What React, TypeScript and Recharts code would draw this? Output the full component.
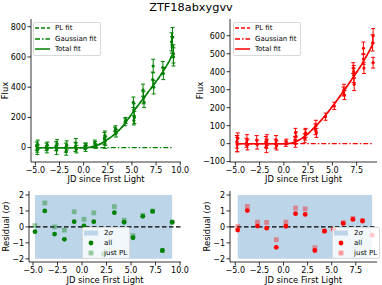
import React from 'react';
import {
  ComposedChart,
  Scatter,
  Line,
  XAxis,
  YAxis,
  ErrorBar,
  ReferenceArea,
  ReferenceLine,
  Legend,
  Label,
} from 'recharts';

const FONT = "'DejaVu Sans', sans-serif";
const GREEN = '#008000';
const RED = '#ff0000';
const SPAN_BLUE = '#bcd5e9';
const TITLE = 'ZTF18abxygvv';

// left panel (green band) flux measurements
const greenX = [-4.85, -4.8, -4.75, -4.8, -3.85, -3.8, -3.75, -2.85, -2.8, -2.75, -1.85, -1.8, -1.75, -0.85, -0.8, -0.75, 0.15, 0.2, 0.25, 1.15, 1.2, 1.25, 2.15, 2.2, 2.25, 2.2, 3.25, 3.3, 3.35, 4.3, 4.35, 5.15, 5.2, 5.25, 5.2, 6.15, 6.2, 6.25, 7.2, 7.15, 7.25, 8.2, 8.25, 9.1, 9.2, 9.15, 9.3, 9.3];
const greenFlux = [10, -15, 20, -5, 5, -10, 15, 10, -15, 25, 0, -25, 15, 5, 30, -10, 10, -5, 15, 30, 20, 10, 60, 30, 45, 80, 110, 125, 95, 170, 180, 300, 250, 200, 180, 380, 330, 300, 540, 450, 400, 530, 490, 700, 730, 680, 620, 600];
const greenErr = [28, 30, 30, 25, 25, 25, 22, 30, 30, 28, 30, 25, 30, 30, 30, 25, 20, 20, 15, 20, 20, 15, 40, 35, 30, 30, 25, 20, 25, 25, 20, 35, 40, 40, 30, 40, 40, 35, 45, 50, 45, 40, 40, 60, 65, 55, 60, 60];

// right panel (red band) flux measurements
const redX = [-4.85, -4.8, -4.75, -4.8, -3.85, -3.8, -3.75, -2.8, -2.75, -1.85, -1.8, -1.75, -1.8, -0.85, -0.8, -0.75, 0.2, 0.25, 1.15, 1.2, 1.25, 1.2, 2.15, 2.2, 2.25, 3.25, 3.3, 3.35, 4.3, 5.2, 6.15, 6.2, 6.25, 7.15, 7.2, 7.25, 7.2, 8.2, 8.2, 8.25, 9.15, 9.2, 9.2];
const redFlux = [10, -5, 30, 0, 5, 20, -5, 20, -5, 10, -20, 20, 0, 0, 20, -10, 0, 10, 20, 60, 40, 0, 30, 50, 60, 80, 100, 60, 150, 210, 290, 300, 270, 420, 380, 330, 400, 530, 470, 420, 560, 600, 450];
const redErr = [35, 40, 30, 45, 25, 30, 30, 25, 25, 30, 30, 30, 25, 25, 25, 25, 15, 15, 20, 25, 25, 20, 25, 30, 25, 30, 30, 25, 20, 20, 25, 30, 25, 30, 40, 35, 35, 35, 30, 30, 45, 40, 30];

// fits
const greenFitX = [-4.8, 0.3, 0.7, 1, 1.5, 2, 2.5, 3, 3.5, 4, 4.5, 5, 5.5, 6, 6.5, 7, 7.5, 8, 8.5, 9, 9.3];
const greenFitY = [0, 0, 3, 8, 18, 34, 55, 78, 105, 138, 180, 225, 268, 310, 352, 394, 437, 482, 532, 590, 635];
const greenGaussX = [-4.8, 9.3];
const greenGaussY = [0, 0];
const redFitX = [-4.8, 0.3, 0.7, 1, 1.5, 2, 2.5, 3, 3.5, 4, 4.5, 5, 5.5, 6, 6.5, 7, 7.5, 8, 8.5, 9, 9.2];
const redFitY = [0, 0, 2, 6, 18, 35, 55, 82, 110, 140, 172, 207, 243, 280, 318, 357, 397, 438, 485, 535, 557];
const redGaussX = [-4.8, 9.2];
const redGaussY = [0, 0];

// residuals
const greenResX = [-4.8, -3.8, -2.8, -1.8, -0.8, 0.2, 1.2, 2.2, 3.3, 4.3, 5.2, 6.2, 7.2, 8.2, 9.2];
const greenResAll = [-0.3, 1.0, -0.45, -0.78, 0.33, 0.06, 0.33, -1.7, 0.89, 0.29, -0.68, 0.66, 0.97, -1.48, 0.29];
const greenResPL = [0.08, 1.5, 0.0, -0.2, 0.95, 0.48, 0.88, -1.7, 1.27, 0.42, -0.55, 0.73, 1.0, -1.48, 0.31];
const redResX = [-4.75, -3.75, -2.7, -1.75, -0.75, 0.25, 1.25, 2.25, 3.25, 4.25, 5.2, 6.2, 7.2, 8.2, 9.2];
const redResAll = [-0.2, 1.02, 0.05, -0.08, -1.28, 0.04, 0.83, 0.78, -1.48, -0.27, -0.15, 0.22, 0.47, 0.37, -0.52];
const redResPL = [0.02, 1.28, 0.3, 0.28, -0.8, 0.3, 1.18, 1.13, -1.3, -0.25, -0.15, 0.27, 0.53, 0.4, -0.52];
const sigmaBand = [-2, 2];

const xTicksLeft = [-5, -2.5, 0, 2.5, 5, 7.5, 10];
const xTicksRight = [-5, -2.5, 0, 2.5, 5, 7.5];
const yTicksGreen = [0, 200, 400, 600, 800];
const yTicksRed = [-100, 0, 100, 200, 300, 400, 500, 600];
const yTicksRes = [-2, -1, 0, 1, 2];

type Pt = { x: number; y: number; e?: number };
const toPts = (xs: number[], ys: number[], es?: number[]): Pt[] =>
  xs.map((x, i) => ({ x, y: ys[i], e: es ? es[i] : undefined }));

const fmtX = (v: number) => v.toFixed(1).replace('-', '\u2212');
const fmtY = (v: number) => String(v).replace('-', '\u2212');

const axisTick = { fontSize: 8, fill: '#000', fontFamily: FONT };
const axisLine = { stroke: '#000', strokeWidth: 0.8 };

const vText = (content: React.ReactNode, x: number, y: number) => (
  <text
    x={x}
    y={y}
    transform={`rotate(-90 ${x} ${y})`}
    textAnchor="middle"
    dominantBaseline="central"
    fontSize={8.4}
    fontFamily={FONT}
    fill="#000"
  >
    {content}
  </text>
);

const legendBox: React.CSSProperties = {
  background: 'rgba(255,255,255,0.8)',
  border: '1px solid #d9d9d9',
  borderRadius: 2,
  fontFamily: FONT,
  fontSize: 7,
  color: '#000',
};

function FitLegend({ color }: { color: string }) {
  const rows = [
    { label: 'PL fit', dash: '4 2' },
    { label: 'Gaussian fit', dash: '5 2 1.5 2' },
    { label: 'Total fit', dash: undefined },
  ];
  return (
    <div style={{ ...legendBox, padding: '0 3px 0 0' }}>
      {rows.map((r) => (
        <div key={r.label} style={{ display: 'flex', alignItems: 'center', height: 10.5 }}>
          <svg width={15} height={6} style={{ marginLeft: 1 }}>
            <line x1={0} x2={15} y1={3} y2={3} stroke={color} strokeWidth={1.5} strokeDasharray={r.dash} />
          </svg>
          <span style={{ marginLeft: 5, whiteSpace: 'nowrap' }}>{r.label}</span>
        </div>
      ))}
    </div>
  );
}

function ResLegend({ color }: { color: string }) {
  const marker = (kind: string) => (
    <svg width={14} height={8} style={{ marginLeft: 1 }}>
      {kind === 'band' && <rect x={0} y={1.5} width={14} height={5} fill={SPAN_BLUE} />}
      {kind === 'all' && <circle cx={7} cy={4} r={2.4} fill={color} />}
      {kind === 'pl' && <rect x={4.6} y={1.6} width={4.8} height={4.8} fill={color} fillOpacity={0.38} />}
    </svg>
  );
  return (
    <div style={{ ...legendBox, padding: '0 2px 0 0' }}>
      <div style={{ display: 'flex', alignItems: 'center', height: 10 }}>
        {marker('band')}
        <span style={{ marginLeft: 6 }}>
          2<span style={{ fontStyle: 'italic' }}>σ</span>
        </span>
      </div>
      <div style={{ display: 'flex', alignItems: 'center', height: 10 }}>
        {marker('all')}
        <span style={{ marginLeft: 6 }}>all</span>
      </div>
      <div style={{ display: 'flex', alignItems: 'center', height: 10 }}>
        {marker('pl')}
        <span style={{ marginLeft: 6, whiteSpace: 'nowrap' }}>just PL</span>
      </div>
    </div>
  );
}

interface FluxProps {
  left: number;
  color: string;
  pts: Pt[];
  fit: Pt[];
  gauss: Pt[];
  xDomain: [number, number];
  xTicks: number[];
  yDomain: [number, number];
  yTicks: number[];
  yWidth: number;
  rightMargin: number;
  labelX: number;
  legendPos: [number, number];
}

function FluxPanel(p: FluxProps) {
  return (
    <div style={{ position: 'absolute', left: p.left, top: 0 }}>
      <ComposedChart width={191} height={188} margin={{ top: 19, right: p.rightMargin, bottom: 0, left: 0 }}>
        <XAxis
          dataKey="x"
          type="number"
          domain={p.xDomain}
          ticks={p.xTicks}
          interval={0}
          allowDataOverflow
          tickFormatter={fmtX}
          tick={axisTick}
          tickSize={3.5}
          tickMargin={1.5}
          axisLine={axisLine}
          tickLine={axisLine}
          height={26}
        >
          <Label value="JD since First Light" position="insideBottom" offset={6} fontSize={8.4} fontFamily={FONT} fill="#000" />
        </XAxis>
        <XAxis xAxisId="top" orientation="top" type="number" domain={p.xDomain} allowDataOverflow height={0} tick={false} tickLine={false} axisLine={axisLine} />
        <YAxis
          dataKey="y"
          type="number"
          domain={p.yDomain}
          ticks={p.yTicks}
          interval={0}
          allowDataOverflow
          tickFormatter={fmtY}
          tick={axisTick}
          tickSize={3.5}
          tickMargin={1.5}
          axisLine={axisLine}
          tickLine={axisLine}
          width={p.yWidth}
        >
          <Label content={() => vText('Flux', p.labelX, 90.5)} />
        </YAxis>
        <YAxis yAxisId="right" orientation="right" type="number" domain={p.yDomain} allowDataOverflow width={0} tick={false} tickLine={false} axisLine={axisLine} />
        <Scatter
          data={p.pts}
          dataKey="y"
          fill={p.color}
          isAnimationActive={false}
          shape={(s: any) => <circle cx={s.cx} cy={s.cy} r={1.6} fill={p.color} />}
        >
          <ErrorBar dataKey="e" direction="y" width={2} stroke={p.color} strokeWidth={1} />
        </Scatter>
        <Line data={p.fit} dataKey="y" type="monotone" dot={false} stroke={p.color} strokeWidth={1.4} strokeDasharray="4 2" isAnimationActive={false} />
        <Line data={p.gauss} dataKey="y" type="linear" dot={false} stroke={p.color} strokeWidth={1.2} strokeDasharray="5 2 1.5 2" isAnimationActive={false} />
        <Line data={p.fit} dataKey="y" type="monotone" dot={false} stroke={p.color} strokeWidth={1.5} isAnimationActive={false} />
        <Legend
          layout="vertical"
          align="center"
          verticalAlign="middle"
          content={() => <FitLegend color={p.color} />}
          wrapperStyle={{ left: p.legendPos[0], top: p.legendPos[1], width: 'auto', height: 'auto' }}
        />
      </ComposedChart>
    </div>
  );
}

interface ResProps {
  left: number;
  color: string;
  xs: number[];
  all: number[];
  pl: number[];
  xDomain: [number, number];
  xTicks: number[];
  yWidth: number;
  rightMargin: number;
  labelX: number;
  legendPos: [number, number];
}

function ResidualPanel(p: ResProps) {
  const allPts = toPts(p.xs, p.all);
  const plPts = toPts(p.xs, p.pl);
  return (
    <div style={{ position: 'absolute', left: p.left, top: 185 }}>
      <ComposedChart width={191} height={100} margin={{ top: 6, right: p.rightMargin, bottom: 0, left: 0 }}>
        <XAxis
          dataKey="x"
          type="number"
          domain={p.xDomain}
          ticks={p.xTicks}
          interval={0}
          allowDataOverflow
          tickFormatter={fmtX}
          tick={axisTick}
          tickSize={3.5}
          tickMargin={1.5}
          axisLine={axisLine}
          tickLine={axisLine}
          height={23}
        >
          <Label value="JD since First Light" position="insideBottom" offset={2} fontSize={8.4} fontFamily={FONT} fill="#000" />
        </XAxis>
        <XAxis xAxisId="top" orientation="top" type="number" domain={p.xDomain} allowDataOverflow height={0} tick={false} tickLine={false} axisLine={axisLine} />
        <YAxis
          dataKey="y"
          type="number"
          domain={[-2.2, 2.25]}
          ticks={yTicksRes}
          interval={0}
          allowDataOverflow
          tickFormatter={fmtY}
          tick={axisTick}
          tickSize={3.5}
          tickMargin={1.5}
          axisLine={axisLine}
          tickLine={axisLine}
          width={p.yWidth}
        >
          <Label
            content={() =>
              vText(
                <>
                  Residual (<tspan fontStyle="italic">σ</tspan>)
                </>,
                p.labelX,
                41.5
              )
            }
          />
        </YAxis>
        <YAxis yAxisId="right" orientation="right" type="number" domain={[-2.2, 2.25]} allowDataOverflow width={0} tick={false} tickLine={false} axisLine={axisLine} />
        <ReferenceArea
          x1={Math.min(...p.xs)}
          x2={Math.max(...p.xs)}
          y1={sigmaBand[0]}
          y2={sigmaBand[1]}
          fill={SPAN_BLUE}
          fillOpacity={1}
          stroke="none"
        />
        <Scatter
          data={allPts}
          dataKey="y"
          fill={p.color}
          isAnimationActive={false}
          shape={(s: any) => <circle cx={s.cx} cy={s.cy} r={2.4} fill={p.color} />}
        />
        <Scatter
          data={plPts}
          dataKey="y"
          fill={p.color}
          isAnimationActive={false}
          shape={(s: any) => <rect x={s.cx - 2.4} y={s.cy - 2.4} width={4.8} height={4.8} fill={p.color} fillOpacity={0.38} />}
        />
        <ReferenceLine y={0} stroke="#000" strokeWidth={1.2} strokeDasharray="4.5 2.5" />
        <Legend
          layout="vertical"
          align="center"
          verticalAlign="middle"
          content={() => <ResLegend color={p.color} />}
          wrapperStyle={{ left: p.legendPos[0], top: p.legendPos[1], width: 'auto', height: 'auto' }}
        />
      </ComposedChart>
    </div>
  );
}

export default function App() {
  return (
    <div style={{ position: 'absolute', left: 0, top: 0, width: 382, height: 285, background: '#fff', overflow: 'hidden' }}>
      <div
        style={{
          position: 'absolute',
          top: 1,
          left: 0,
          width: 382,
          textAlign: 'center',
          fontFamily: FONT,
          fontSize: 11.3,
          lineHeight: '13px',
          color: '#000',
        }}
      >
        {TITLE}
      </div>
      <FluxPanel
        left={0}
        color={GREEN}
        pts={toPts(greenX, greenFlux, greenErr)}
        fit={toPts(greenFitX, greenFitY)}
        gauss={toPts(greenGaussX, greenGaussY)}
        xDomain={[-5.45, 10.08]}
        xTicks={xTicksLeft}
        yDomain={[-95, 851]}
        yTicks={yTicksGreen}
        yWidth={31}
        rightMargin={10}
        labelX={5}
        legendPos={[33, 22]}
      />
      <FluxPanel
        left={191}
        color={RED}
        pts={toPts(redX, redFlux, redErr)}
        fit={toPts(redFitX, redFitY)}
        gauss={toPts(redGaussX, redGaussY)}
        xDomain={[-5.55, 9.6]}
        xTicks={xTicksRight}
        yDomain={[-102, 693]}
        yTicks={yTicksRed}
        yWidth={39}
        rightMargin={5}
        labelX={9}
        legendPos={[42, 22]}
      />
      <ResidualPanel
        left={0}
        color={GREEN}
        xs={greenResX}
        all={greenResAll}
        pl={greenResPL}
        xDomain={[-5.41, 10.1]}
        xTicks={xTicksLeft}
        yWidth={29}
        rightMargin={10}
        labelX={6}
        legendPos={[82, 42]}
      />
      <ResidualPanel
        left={191}
        color={RED}
        xs={redResX}
        all={redResAll}
        pl={redResPL}
        xDomain={[-5.55, 9.7]}
        xTicks={xTicksRight}
        yWidth={39}
        rightMargin={5}
        labelX={16}
        legendPos={[141, 42]}
      />
    </div>
  );
}
